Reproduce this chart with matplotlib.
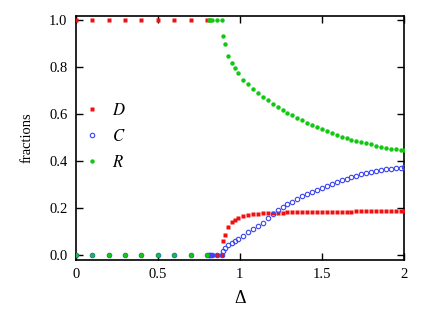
import matplotlib
matplotlib.use("Agg")
import matplotlib.pyplot as plt

# Delta values (sparse below the transition, dense above it)
delta = [0.0, 0.1, 0.2, 0.3, 0.4, 0.5, 0.6, 0.7, 0.8,
         0.81, 0.82, 0.83, 0.86, 0.89,
         0.90, 0.91, 0.93, 0.95, 0.97, 0.99,
         1.02, 1.05, 1.08, 1.11, 1.14, 1.17, 1.20, 1.23, 1.26, 1.29,
         1.32, 1.35, 1.38, 1.41, 1.44, 1.47, 1.50, 1.53, 1.56, 1.59,
         1.62, 1.65, 1.68, 1.71, 1.74, 1.77, 1.80, 1.83, 1.86, 1.89,
         1.92, 1.95, 1.98, 2.00]

frac_D = [1, 1, 1, 1, 1, 1, 1, 1, 1,
          0, 0, 0, 0, 0,
          0.060, 0.085, 0.120, 0.139, 0.148, 0.155,
          0.166, 0.170, 0.173, 0.175, 0.177, 0.178, 0.179, 0.180, 0.180, 0.181,
          0.181, 0.182, 0.182, 0.182, 0.183, 0.183, 0.183, 0.183, 0.184, 0.184,
          0.184, 0.184, 0.184, 0.185, 0.185, 0.185, 0.185, 0.185, 0.185, 0.186,
          0.186, 0.186, 0.186, 0.186]

frac_C = [0, 0, 0, 0, 0, 0, 0, 0, 0,
          0, 0, 0, 0, 0,
          0.016, 0.030, 0.041, 0.050, 0.060, 0.067,
          0.081, 0.096, 0.108, 0.122, 0.137, 0.155, 0.174, 0.190, 0.202, 0.215,
          0.226, 0.239, 0.249, 0.258, 0.268, 0.276, 0.286, 0.295, 0.303, 0.310,
          0.317, 0.324, 0.330, 0.337, 0.343, 0.348, 0.352, 0.357, 0.361, 0.364,
          0.367, 0.370, 0.371, 0.373]

frac_R = [0, 0, 0, 0, 0, 0, 0, 0, 0,
          1, 1, 1, 1, 1,
          0.933, 0.899, 0.848, 0.818, 0.795, 0.775,
          0.745, 0.728, 0.708, 0.691, 0.674, 0.660, 0.644, 0.630, 0.616, 0.606,
          0.595, 0.583, 0.573, 0.562, 0.552, 0.544, 0.535, 0.526, 0.518, 0.511,
          0.503, 0.498, 0.491, 0.485, 0.480, 0.475, 0.471, 0.465, 0.461, 0.456,
          0.452, 0.450, 0.448, 0.446]

plt.rcParams['font.family'] = ['Liberation Serif', 'DejaVu Serif']
plt.rcParams['mathtext.fontset'] = 'stix'

fig = plt.figure(figsize=(4.36, 3.09), dpi=100)
ax = fig.add_axes([0.1736, 0.1586, 0.7530, 0.7912])

ax.plot(delta, frac_D, ls='none', marker='s', ms=3.3, color='#f01010',
        mec='none', label='$D$', zorder=3)
ax.plot(delta, frac_C, ls='none', marker='o', ms=3.2, mfc='none',
        mec='#3a44f0', mew=0.8, label='$C$', zorder=4)
ax.plot(delta, frac_R, ls='none', marker='o', ms=3.2, color='#10c810',
        mec='none', label='$R$', zorder=5)

ax.set_xlim(0, 2)
ax.set_ylim(-0.022, 1.02)
ax.set_xticks([0, 0.5, 1, 1.5, 2])
ax.set_xticklabels(['0', '0.5', '1', '1.5', '2'])
ax.set_yticks([0, 0.2, 0.4, 0.6, 0.8, 1.0])
ax.set_yticklabels(['0.0', '0.2', '0.4', '0.6', '0.8', '1.0'])
ax.tick_params(direction='in', length=5, width=1, top=True, right=True,
               labelsize=10.5, pad=6)
for s in ax.spines.values():
    s.set_linewidth(1.2)

ax.set_xlabel('Δ', fontsize=13, labelpad=6)
ax.set_ylabel('fractions', fontsize=10.5, labelpad=11)

ax.legend(loc='center left', bbox_to_anchor=(-0.01, 0.503), frameon=False,
          handlelength=1.0, handletextpad=0.7, labelspacing=0.6,
          fontsize=12, borderaxespad=0.3)

fig.savefig('out.png', dpi=100)
